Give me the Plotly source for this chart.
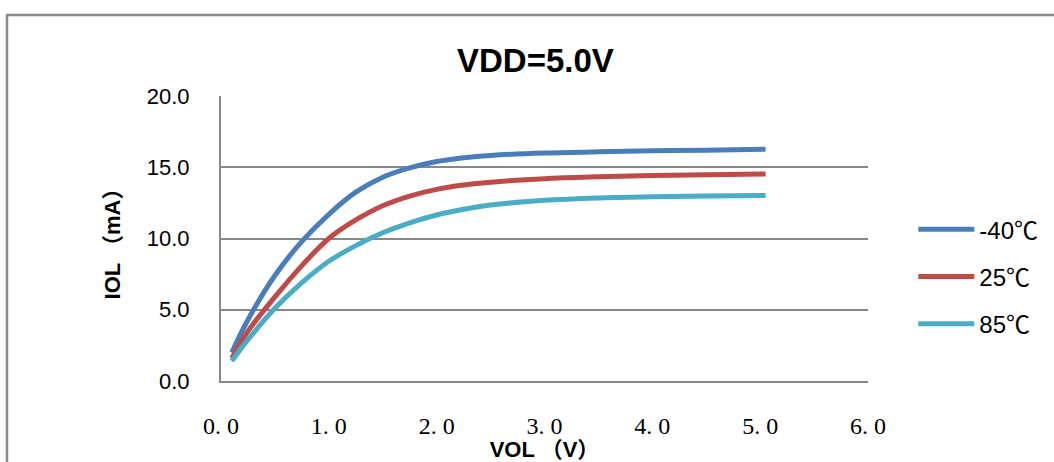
import plotly.graph_objects as go

# ---- data ----
vol = [0.1, 0.25, 0.5, 0.75, 1.0, 1.25, 1.5, 1.75, 2.0, 2.25, 2.5, 3.0, 3.5, 4.0, 4.5, 5.05]
iol_m40 = [2.0, 4.3, 7.4, 9.8, 11.7, 13.25, 14.3, 14.95, 15.4, 15.67, 15.83, 16.0, 16.08, 16.15, 16.2, 16.27]
iol_25 = [1.6, 3.5, 5.9, 8.1, 10.0, 11.3, 12.3, 12.98, 13.45, 13.75, 13.95, 14.2, 14.33, 14.42, 14.48, 14.52]
iol_85 = [1.4, 2.9, 5.1, 6.9, 8.4, 9.5, 10.4, 11.1, 11.65, 12.05, 12.35, 12.68, 12.85, 12.93, 12.98, 13.02]

series_names = ["-40℃", "25℃", "85℃"]
series_values = [iol_m40, iol_25, iol_85]
series_colors = ["#4a7ebb", "#be4b48", "#4bacc6"]

x_ticks = [0, 1, 2, 3, 4, 5, 6]
x_ticktext = ["0. 0", "1. 0", "2. 0", "3. 0", "4. 0", "5. 0", "6. 0"]
y_ticks = [0, 5, 10, 15, 20]
y_ticktext = ["0.0", "5.0", "10.0", "15.0", "20.0"]

SANS = "Liberation Sans, Noto Sans CJK SC, sans-serif"
SERIF = "Liberation Serif, DejaVu Serif, serif"
GRID = "#888888"

fig = go.Figure()
for i, (name, vals, col) in enumerate(zip(series_names, series_values, series_colors)):
    fig.add_trace(go.Scatter(
        x=vol, y=vals, name=name, mode="lines",
        line=dict(color=col, width=5, shape="spline", smoothing=1.0),
        legendgroup=f"g{i}",
    ))

fig.update_layout(
    width=1054, height=462,
    margin=dict(l=221, r=186, t=96, b=81, autoexpand=False),
    paper_bgcolor="white", plot_bgcolor="white",
    title=dict(text="<b>VDD=5.0V</b>", x=0.508, xanchor="center", y=0.87, yanchor="middle",
               font=dict(family=SANS, size=33, color="black")),
    showlegend=True,
    legend=dict(x=1.07, xanchor="left", y=0.61, yanchor="top",
                font=dict(family="Liberation Sans, Noto Sans CJK SC", size=24, color="black"),
                tracegroupgap=13, bgcolor="rgba(0,0,0,0)", itemwidth=56),
    xaxis=dict(range=[0, 6], tickmode="array", tickvals=x_ticks, ticktext=x_ticktext,
               showgrid=False, zeroline=False, showline=True, linecolor=GRID, linewidth=2,
               ticks="", ticklabelstandoff=22,
               tickfont=dict(family=SERIF, size=24, color="black"),
               title=dict(text="<b>VOL （V）</b>", standoff=0,
                          font=dict(family=SANS, size=22, color="black"))),
    yaxis=dict(range=[0, 20], tickmode="array", tickvals=y_ticks, ticktext=y_ticktext,
               showgrid=True, gridcolor=GRID, gridwidth=2, zeroline=False,
               showline=True, linecolor=GRID, linewidth=2, ticks="",
               ticklabelstandoff=25,
               tickfont=dict(family="Liberation Sans, sans-serif", size=22, color="black"),
               title=dict(text="<b>IOL （mA）</b>", standoff=20,
                          font=dict(family=SANS, size=22, color="black"))),
    shapes=[dict(type="rect", xref="paper", yref="paper",
                 x0=(7 - 221) / 647, x1=(1070 - 221) / 647,
                 y0=-(480 - 381) / 285, y1=1 + (96 - 15) / 285,
                 line=dict(color="#8a8a8a", width=2.5), fillcolor="rgba(0,0,0,0)", layer="below")],
)

fig.write_html("out.html", config={"displayModeBar": False},
               post_script="document.body.style.margin='0';document.body.style.overflow='hidden';")
